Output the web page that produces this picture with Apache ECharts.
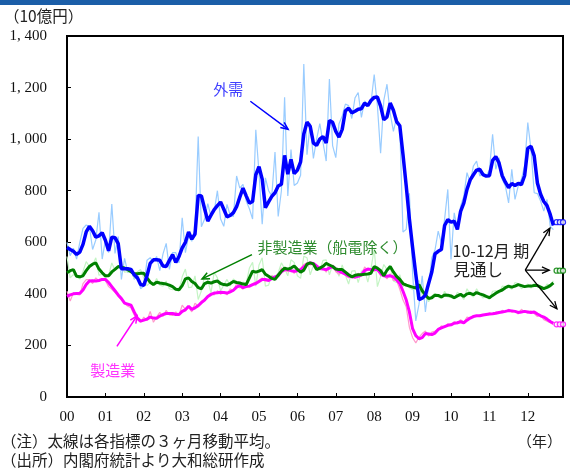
<!DOCTYPE html>
<html>
<head>
<meta charset="utf-8">
<script src="https://cdn.jsdelivr.net/npm/echarts@6/dist/echarts.min.js"></script>
<style>
html,body{margin:0;padding:0;background:#fff;}
#chart{width:570px;height:474px;}
</style>
</head>
<body>
<div id="chart"></div>
<script>
// Machinery orders (10 billion yen), monthly from Jan 2000 (index 0) to Sep 2012 (index 152)
const yearLabels = ['00','01','02','03','04','05','06','07','08','09','10','11','12'];
const yMax = 1400;
const yStep = 200;

// 外需 (overseas demand)
const gaijuMonthly = [
  600,548,577,535,600,654,667,662,572,609,716,535,
  609,560,748,557,622,456,538,482,500,456,474,420,
  430,530,540,525,545,490,555,596,495,560,560,520,
  695,560,625,604,650,1010,660,690,750,700,720,800,
  690,662,747,705,700,857,810,825,760,730,690,1036,
  870,670,850,800,780,950,700,800,1162,780,960,820,
  830,860,1291,940,1060,925,1000,1060,987,915,1233,975,
  928,1060,1090,1136,1130,1080,1160,1181,1084,1148,1130,1142,
  1250,1130,945,1150,1213,1100,1030,1084,1040,640,650,790,
  480,295,360,470,330,430,540,570,643,597,690,805,
  533,714,649,740,779,870,831,896,915,857,870,857,
  880,1019,883,928,844,818,753,883,766,818,844,896,
  1064,960,792,789,760,721,766,662,649
];
const gaijuAvg = [
  580,572,565,553,562,592,640,662,645,620,625,637,
  608,567,620,618,595,497,497,497,495,474,462,436,
  433,470,518,532,532,530,508,506,530,552,522,545,
  578,600,640,612,632,782,780,730,682,705,727,742,
  756,728,699,704,715,738,775,810,780,752,758,862,
  893,845,734,757,778,792,818,825,937,864,922,866,
  880,912,1020,1066,1050,985,976,1000,1010,985,1072,1065,
  1030,1008,1038,1110,1120,1102,1108,1116,1118,1140,1130,1150,
  1162,1163,1128,1075,1086,1140,1112,1068,1052,940,820,690,
  580,475,378,383,395,440,485,555,565,572,665,688,
  678,682,650,720,752,805,842,862,880,883,862,857,
  858,918,932,908,858,833,812,828,820,828,824,858,
  965,972,935,830,786,758,742,708,665
];

// 非製造業（船電除く）
const hiseizoMonthly = [
  545,462,475,466,458,487,525,506,512,540,472,476,
  462,472,520,492,505,512,484,486,488,460,486,494,
  460,432,444,432,460,434,430,450,420,416,418,412,
  466,496,424,426,470,378,412,470,452,404,484,462,
  412,434,456,430,458,446,422,446,440,500,522,430,
  512,540,430,434,472,462,482,520,498,470,532,522,
  470,460,546,540,474,510,498,492,530,532,474,512,
  502,468,512,472,438,488,490,444,488,496,446,498,
  574,428,468,514,494,510,450,444,474,428,440,424,
  416,440,452,396,392,370,392,402,388,382,410,388,
  386,380,406,396,378,420,398,388,420,398,384,392,
  378,410,412,402,430,428,426,418,444,440,420,430,
  438,422,440,436,414,418,438,432,450
];
const hiseizoAvg = [
  482,490,494,468,466,470,490,506,515,520,496,482,
  470,470,485,495,506,503,500,494,486,478,478,480,
  480,462,445,436,445,442,440,438,434,428,418,416,
  432,458,462,448,440,424,420,440,445,442,447,450,
  440,436,434,440,448,444,442,438,436,462,488,484,
  488,494,476,468,460,456,472,488,500,496,500,508,
  495,484,492,515,520,516,494,500,507,518,512,506,
  496,494,494,484,474,466,472,474,474,476,477,480,
  506,500,490,470,492,506,485,468,456,440,434,430,
  426,423,436,412,396,382,385,395,394,388,396,395,
  392,385,392,398,390,400,402,397,405,400,396,390,
  385,394,402,410,415,424,430,426,430,436,432,428,
  430,430,432,432,426,420,425,432,443
];

// 製造業 (manufacturing)
const seizoMonthly = [
  410,372,404,398,396,440,455,455,440,462,450,460,
  452,428,418,406,390,376,362,352,346,318,300,290,
  310,296,332,290,310,328,312,336,318,316,330,318,
  356,340,348,330,364,352,372,380,390,402,396,412,
  398,408,396,420,410,440,428,418,436,426,440,446,
  452,462,448,454,470,464,468,500,490,486,494,480,
  494,498,514,520,512,514,498,496,500,484,514,508,
  486,476,486,472,462,470,460,480,470,504,492,498,
  488,494,470,472,458,478,452,452,418,376,350,270,
  230,210,232,246,256,236,252,256,262,276,270,284,
  280,292,284,300,290,310,306,316,312,318,320,318,
  326,322,330,326,336,330,340,328,334,322,340,330,
  326,334,324,312,318,300,294,288,280
];
const seizoAvg = [
  390,396,400,401,402,415,436,450,451,450,452,456,
  456,444,428,412,396,382,364,360,356,330,306,294,
  298,302,310,306,305,314,320,324,324,324,320,320,
  332,338,352,340,346,354,366,376,390,398,403,404,
  406,405,403,408,414,426,432,424,428,430,436,440,
  448,456,456,452,460,466,471,486,494,494,490,488,
  490,494,504,514,520,518,508,498,496,494,500,506,
  496,488,482,476,470,466,465,468,474,490,496,494,
  494,494,480,470,468,470,466,455,440,410,377,330,
  265,238,226,230,246,244,242,248,262,268,273,278,
  280,286,288,292,288,298,306,312,315,315,318,320,
  322,323,325,328,330,332,335,334,332,328,330,332,
  330,328,330,322,315,310,302,293,286
];

// Oct-Dec 2012 outlook, shown at each month of the quarter
const outlookMonths = [153,154,155];
const gaijuOutlook = 678;
const hiseizoOutlook = 490;
const seizoOutlook = 282;

const serif = '"Liberation Serif","DejaVu Serif","Noto Sans CJK JP",serif';
const jp = '"Noto Sans CJK JP","Noto Sans CJK SC",sans-serif';

const pts = arr => arr.map((v, i) => [i, v]);
const outlookPts = v => outlookMonths.map(m => [m, v]);

function thin(data, color) {
  return { type: 'line', data: pts(data), symbol: 'none', silent: true,
    lineStyle: { color: color, width: 1.2 }, z: 2 };
}
function thick(data, color, w) {
  return { type: 'line', data: pts(data), symbol: 'none', silent: true,
    lineStyle: { color: color, width: w }, z: 3 };
}
function outlook(v, color) {
  return { type: 'scatter', data: outlookPts(v), symbol: 'circle', symbolSize: 5,
    clip: false, silent: true, z: 4,
    itemStyle: { color: '#fff', borderColor: color, borderWidth: 1.3 } };
}

const chart = echarts.init(document.getElementById('chart'), null, { renderer: 'canvas' });

chart.setOption({
  animation: false,
  backgroundColor: '#fff',
  grid: { left: 67, right: 7, top: 36, bottom: 77, show: true,
    borderColor: '#000', borderWidth: 2, backgroundColor: 'transparent' },
  xAxis: {
    type: 'value', min: 0, max: 155, interval: 12,
    splitLine: { show: false },
    axisLine: { show: true, lineStyle: { color: '#000', width: 2 } },
    axisTick: { show: true, inside: true, length: 4, lineStyle: { color: '#000', width: 1 } },
    axisLabel: {
      margin: 13, color: '#111', fontFamily: serif, fontSize: 15,
      showMaxLabel: false,
      formatter: v => (v % 12 === 0 && v / 12 < yearLabels.length) ? yearLabels[v / 12] : ''
    }
  },
  yAxis: {
    type: 'value', min: 0, max: yMax, interval: yStep,
    splitLine: { show: false },
    axisLine: { show: true, lineStyle: { color: '#000', width: 2 } },
    axisTick: { show: true, inside: true, length: 4, lineStyle: { color: '#000', width: 1 } },
    axisLabel: {
      margin: 20, color: '#111', fontFamily: serif, fontSize: 15,
      formatter: v => v >= 1000 ? Math.floor(v / 1000) + ', ' + String(v % 1000).padStart(3, '0') : String(v)
    }
  },
  series: [
    thin(gaijuMonthly, '#99ccff'),
    thin(hiseizoMonthly, '#c4f4c4'),
    thin(seizoMonthly, '#ff99cc'),
    thick(seizoAvg, '#ff00ff', 3),
    thick(hiseizoAvg, '#008000', 3),
    thick(gaijuAvg, '#0000ff', 3.5),
    outlook(gaijuOutlook, '#0000ff'),
    outlook(hiseizoOutlook, '#008000'),
    outlook(seizoOutlook, '#ff00ff')
  ]
});

// Annotations placed in data coordinates (month index, value)
const px = p => chart.convertToPixel({ gridIndex: 0 }, p);

function arrow(from, to, color, width) {
  const a = px(from), b = px(to);
  const ang = Math.atan2(b[1] - a[1], b[0] - a[0]);
  const L = 8, spread = 0.42;
  const h1 = [b[0] - L * Math.cos(ang - spread), b[1] - L * Math.sin(ang - spread)];
  const h2 = [b[0] - L * Math.cos(ang + spread), b[1] - L * Math.sin(ang + spread)];
  return [
    { type: 'line', silent: true, z: 10, shape: { x1: a[0], y1: a[1], x2: b[0], y2: b[1] },
      style: { stroke: color, lineWidth: width } },
    { type: 'polyline', silent: true, z: 10, shape: { points: [h1, b, h2] },
      style: { stroke: color, lineWidth: width, fill: null } }
  ];
}
function label(text, at, color, size, align) {
  const p = px(at);
  return { type: 'text', silent: true, z: 10, x: p[0], y: p[1],
    style: { text: text, fill: color, fontFamily: jp, fontSize: size,
      textAlign: align || 'left', textVerticalAlign: 'middle' } };
}
function plain(text, x, y, size, align) {
  return { type: 'text', silent: true, z: 10, x: x, y: y,
    style: { text: text, fill: '#222', fontFamily: jp, fontSize: size,
      textAlign: align || 'left', textVerticalAlign: 'middle' } };
}

const graphics = [
  { type: 'rect', silent: true, z: 20, shape: { x: 0, y: 0, width: 570, height: 5 },
    style: { fill: '#1b5ea8' } },
  plain('（10億円）', 4, 16, 15.5),
  plain('（注）太線は各指標の３ヶ月移動平均。', 1, 441, 15.5),
  plain('（出所）内閣府統計より大和総研作成', 1, 460, 15.5),
  plain('（年）', 562, 441, 15, 'right'),
  label('外需', [50.4, 1192], '#4040ff', 15, 'center'),
  label('非製造業（船電除く）', [59.5, 579], '#2e8b2e', 15),
  label('製造業', [14.3, 102], '#ff33ff', 15, 'center'),
  label('10-12月 期', [120.5, 565], '#222', 16),
  label('見通し', [120.8, 494], '#222', 16.5),
  ...arrow([57.3, 1147], [69.1, 1038], '#0000ff', 1.5),
  ...arrow([57.8, 552], [42.2, 458], '#008000', 1.5),
  ...arrow([15.6, 196], [21.9, 315], '#ff00ff', 1.5),
  ...arrow([143.2, 492], [150.9, 655], '#000', 1.3),
  ...arrow([143.2, 492], [150.7, 492], '#000', 1.3),
  ...arrow([143.2, 492], [153.1, 342], '#000', 1.3)
];

chart.setOption({ graphic: graphics });
</script>
</body>
</html>
